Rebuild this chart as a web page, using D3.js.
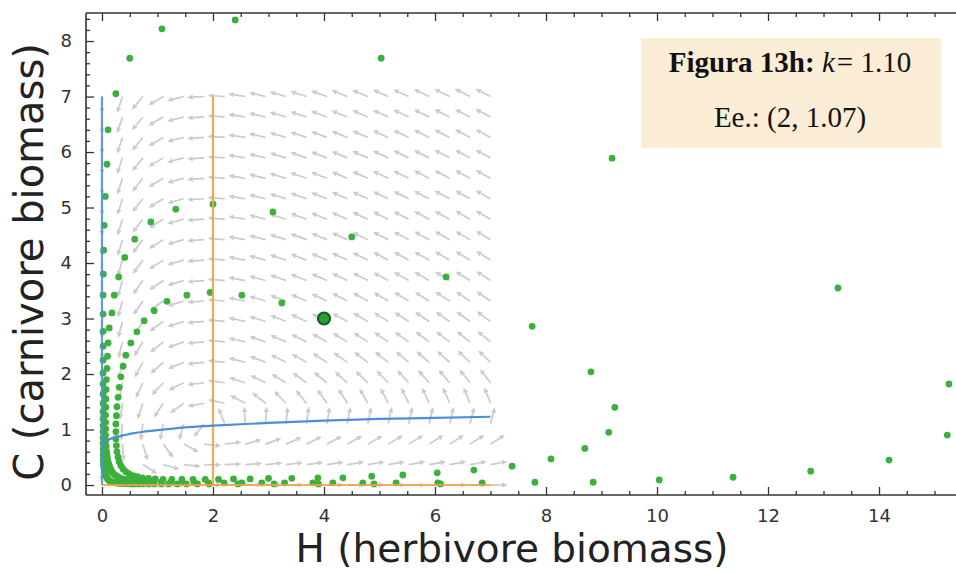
<!DOCTYPE html>
<html><head><meta charset="utf-8">
<script src="https://cdn.jsdelivr.net/npm/d3@7"></script>
<style>body{margin:0;background:#fff}svg{display:block}</style>
</head><body><svg id="chart" width="956" height="573"></svg>
<script>
// ---------- data ----------
const xTickValues = [0, 2, 4, 6, 8, 10, 12, 14];
const yTickValues = [0, 1, 2, 3, 4, 5, 6, 7, 8];
const xLabel = "H (herbivore biomass)";
const yLabel = "C (carnivore biomass)";
const boxTitle = "Figura 13h:";
const boxK = "k";
const boxKValue = "= 1.10";
const boxEq = "Ee.: (2, 1.07)";

// herbivore nullcline (blue curve)
const blueH = [0, 0.05, 0.1, 0.2, 0.35, 0.5, 0.75, 1, 1.5, 2, 3, 4, 5, 6, 7];
const blueC = [0.76, 0.79, 0.81, 0.85, 0.89, 0.92, 0.96, 0.99, 1.04, 1.07, 1.12, 1.16, 1.19, 1.21, 1.23];
// straight nullclines
const blueAxis = {h: [0, 0], c: [0, 7]};
const orangeVert = {h: [2, 2], c: [0, 7]};
const orangeHorz = {h: [0, 7], c: [0, 0]};
const carnivoreThreshold = 2;   // dC/dt = 0 at H = 2
const fieldRange = [0, 7];
const fieldPoints = 20;

// trajectory points (green), in time order, three laps
const lap1H = [4.0, 3.24, 2.52, 1.95, 1.53, 1.17, 0.94, 0.76, 0.63, 0.52, 0.43, 0.38, 0.34, 0.31, 0.29, 0.27, 0.26, 0.25, 0.25, 0.25, 0.26, 0.27, 0.29, 0.31, 0.34, 0.38, 0.43, 0.49, 0.56, 0.64, 0.73, 0.84, 0.96, 1.10, 1.26, 1.44, 1.64, 1.86, 2.10, 2.37, 2.67, 3.00, 3.42, 3.89, 4.34, 4.86, 5.42, 6.04, 6.70, 7.39, 8.09, 8.70, 9.13, 9.24, 8.81, 7.75, 6.20, 4.50, 3.08, 2.00, 1.33, 0.88, 0.59, 0.41, 0.30, 0.22];
const lap1C = [3.00, 3.28, 3.42, 3.47, 3.42, 3.31, 3.14, 2.96, 2.76, 2.56, 2.34, 2.14, 1.95, 1.76, 1.58, 1.41, 1.25, 1.10, 0.96, 0.83, 0.71, 0.60, 0.50, 0.42, 0.35, 0.29, 0.24, 0.20, 0.17, 0.15, 0.13, 0.12, 0.11, 0.10, 0.10, 0.10, 0.10, 0.10, 0.10, 0.11, 0.11, 0.12, 0.12, 0.13, 0.13, 0.16, 0.18, 0.22, 0.27, 0.34, 0.47, 0.66, 0.95, 1.40, 2.04, 2.86, 3.75, 4.47, 4.92, 5.06, 4.97, 4.74, 4.43, 4.10, 3.75, 3.42];
const lap2H = [0.18, 0.13, 0.11, 0.10, 0.09, 0.08, 0.075, 0.07, 0.07, 0.065, 0.065, 0.065, 0.065, 0.07, 0.075, 0.08, 0.085, 0.09, 0.095, 0.10, 0.11, 0.12, 0.13, 0.14, 0.15, 0.165, 0.18, 0.20, 0.22, 0.25, 0.28, 0.32, 0.36, 0.42, 0.50, 0.58, 0.68, 0.79, 0.92, 1.07, 1.24, 1.44, 1.66, 1.92, 2.20, 2.52, 2.88, 3.29, 3.80, 4.16, 4.70, 5.30, 6.05, 6.85, 7.80, 8.85, 10.04, 11.37, 12.77, 14.18, 15.23, 15.26, 13.26, 9.19, 5.03, 2.40, 1.08, 0.50, 0.25, 0.11, 0.09];
const lap2C = [3.10, 2.83, 2.56, 2.32, 2.10, 1.90, 1.72, 1.55, 1.40, 1.26, 1.13, 1.01, 0.90, 0.80, 0.70, 0.61, 0.57, 0.53, 0.49, 0.45, 0.41, 0.38, 0.35, 0.32, 0.29, 0.26, 0.235, 0.21, 0.19, 0.17, 0.15, 0.13, 0.115, 0.10, 0.09, 0.08, 0.07, 0.06, 0.055, 0.05, 0.05, 0.045, 0.045, 0.04, 0.04, 0.04, 0.04, 0.04, 0.04, 0.04, 0.04, 0.04, 0.04, 0.04, 0.05, 0.05, 0.09, 0.14, 0.25, 0.45, 0.90, 1.82, 3.55, 5.89, 7.69, 8.38, 8.22, 7.69, 7.05, 6.40, 5.78];
const lap3H = [0.06, 0.04, 0.03, 0.025, 0.02, 0.02, 0.02, 0.02, 0.02, 0.02, 0.02, 0.02, 0.02, 0.02, 0.02, 0.02, 0.02, 0.02, 0.02, 0.02, 0.022, 0.025, 0.027, 0.03, 0.032, 0.035, 0.04, 0.045, 0.05, 0.06, 0.07, 0.08, 0.09, 0.10, 0.115, 0.13, 0.15, 0.17, 0.195, 0.22, 0.25, 0.28, 0.32, 0.36, 0.41, 0.46, 0.52, 0.58, 0.66, 0.74, 0.84, 0.94, 1.07, 1.20, 1.36, 1.52, 1.72, 1.93, 2.45, 3.10, 3.90, 4.90, 6.10];
const lap3C = [5.20, 4.68, 4.23, 3.80, 3.42, 3.08, 2.77, 2.50, 2.25, 2.02, 1.82, 1.64, 1.47, 1.32, 1.19, 1.07, 0.96, 0.85, 0.75, 0.65, 0.56, 0.47, 0.43, 0.39, 0.355, 0.32, 0.29, 0.26, 0.23, 0.20, 0.175, 0.15, 0.13, 0.11, 0.095, 0.08, 0.07, 0.06, 0.05, 0.045, 0.04, 0.035, 0.03, 0.03, 0.025, 0.025, 0.02, 0.02, 0.02, 0.02, 0.02, 0.02, 0.02, 0.02, 0.02, 0.02, 0.02, 0.02, 0.02, 0.02, 0.02, 0.02, 0.02];
const startPoint = {h: 4.0, c: 3.0};

// ---------- layout ----------
const svg = d3.select("#chart");
const W = 956, H = 573;
const plot = {left: 86, right: 956, top: 13, bottom: 495};
const x = d3.scaleLinear().domain([-0.288, 15.387]).range([plot.left, plot.right]);
const y = d3.scaleLinear().domain([-0.18, 8.505]).range([plot.bottom, plot.top]);

svg.append("rect").attr("width", W).attr("height", H).attr("fill", "#fff");

svg.append("defs").append("clipPath").attr("id", "clip")
  .append("rect").attr("x", plot.left).attr("y", plot.top)
  .attr("width", plot.right - plot.left).attr("height", plot.bottom - plot.top);
const g = svg.append("g").attr("clip-path", "url(#clip)");

// ---------- vector field ----------
const gBlue = d3.scaleLinear().domain(blueH).range(blueC).clamp(true);
function field(h, c) {
  return [h * (gBlue(h) - c), 0.6 * c * (h - carnivoreThreshold)];
}
const grid = [];
for (let i = 0; i < fieldPoints; i++) for (let j = 0; j < fieldPoints; j++) {
  const h = fieldRange[0] + (fieldRange[1] - fieldRange[0]) * i / (fieldPoints - 1);
  const c = fieldRange[0] + (fieldRange[1] - fieldRange[0]) * j / (fieldPoints - 1);
  grid.push({h, c});
}
const L = 17, headL = 5.5, headW = 2.6;
const arrows = g.append("g").attr("fill", "#cbcbcb").attr("stroke", "#cbcbcb")
  .attr("stroke-width", 1.7);
grid.forEach(p => {
  const [dh, dc] = field(p.h, p.c);
  const m = Math.hypot(dh, dc);
  if (m < 1e-9) return;
  const ux = dh / m, uy = -dc / m;
  const x0 = x(p.h), y0 = y(p.c);
  const x1 = x0 + ux * L, y1 = y0 + uy * L;
  const bx = x1 - ux * headL, by = y1 - uy * headL;
  arrows.append("line").attr("x1", x0).attr("y1", y0).attr("x2", bx).attr("y2", by);
  arrows.append("path").attr("stroke", "none")
    .attr("d", `M${x1},${y1}L${bx - uy * headW},${by + ux * headW}L${bx + uy * headW},${by - ux * headW}Z`);
});

// ---------- trajectory ----------
const zipPts = (hs, cs) => hs.slice(0, Math.min(hs.length, cs.length)).map((h, i) => ({h, c: cs[i]}));
const pts = [...zipPts(lap1H, lap1C), ...zipPts(lap2H, lap2C), ...zipPts(lap3H, lap3C)];
g.append("g").selectAll("circle").data(pts).join("circle")
  .attr("cx", d => x(d.h)).attr("cy", d => y(d.c)).attr("r", 3.4)
  .attr("fill", "#3cb03c");

// ---------- nullclines ----------
const line = d3.line().x(d => x(d[0])).y(d => y(d[1]));
const zip = (a, b) => a.map((v, i) => [v, b[i]]);
g.append("path").attr("d", line(zip(orangeHorz.h, orangeHorz.c))).attr("fill", "none")
  .attr("stroke", "#f2a240").attr("stroke-width", 2.2).attr("opacity", 0.85);
g.append("path").attr("d", line(zip(orangeVert.h, orangeVert.c))).attr("fill", "none")
  .attr("stroke", "#f2a240").attr("stroke-width", 2.2).attr("opacity", 0.9);
g.append("path").attr("d", line(zip(blueAxis.h, blueAxis.c))).attr("fill", "none")
  .attr("stroke", "#4a8fdc").attr("stroke-width", 2.2).attr("opacity", 0.85);
g.append("path").attr("d", d3.line().curve(d3.curveMonotoneX).x(d => x(d[0])).y(d => y(d[1]))(zip(blueH, blueC)))
  .attr("fill", "none").attr("stroke", "#4a8fdc").attr("stroke-width", 2.2);

// start marker
g.append("circle").attr("cx", x(startPoint.h)).attr("cy", y(startPoint.c)).attr("r", 6)
  .attr("fill", "#2f9a36").attr("stroke", "#11621a").attr("stroke-width", 2.2);

// ---------- axes (frame with inward ticks) ----------
const axisColor = "#333";
const ax = svg.append("g");
ax.append("line").attr("x1", plot.left).attr("x2", plot.right).attr("y1", plot.bottom).attr("y2", plot.bottom)
  .attr("stroke", axisColor).attr("stroke-width", 1.6);
ax.append("line").attr("x1", plot.left).attr("x2", plot.right).attr("y1", plot.top).attr("y2", plot.top)
  .attr("stroke", axisColor).attr("stroke-width", 1.6);
ax.append("line").attr("x1", plot.left).attr("x2", plot.left).attr("y1", plot.top).attr("y2", plot.bottom)
  .attr("stroke", axisColor).attr("stroke-width", 1.6);

const xMinor = d3.range(0, 15.5, 0.5).filter(v => !xTickValues.includes(v));
const yMinor = d3.range(-0.2, 8.6, 0.2).map(v => +v.toFixed(1)).filter(v => !yTickValues.includes(v) && v > -0.18 && v < 8.5);

const xAxisB = d3.axisBottom(x).tickValues(xTickValues).tickSizeInner(-8).tickSizeOuter(0).tickPadding(14).tickFormat(d3.format("d"));
const gxb = svg.append("g").attr("transform", `translate(0,${plot.bottom})`).call(xAxisB);
const xAxisT = d3.axisTop(x).tickValues(xTickValues).tickSizeInner(-8).tickSizeOuter(0).tickFormat("");
const gxt = svg.append("g").attr("transform", `translate(0,${plot.top})`).call(xAxisT);
const xAxisBm = d3.axisBottom(x).tickValues(xMinor).tickSizeInner(-4).tickSizeOuter(0).tickFormat("");
const gxbm = svg.append("g").attr("transform", `translate(0,${plot.bottom})`).call(xAxisBm);
const xAxisTm = d3.axisTop(x).tickValues(xMinor).tickSizeInner(-4).tickSizeOuter(0).tickFormat("");
const gxtm = svg.append("g").attr("transform", `translate(0,${plot.top})`).call(xAxisTm);
const yAxis = d3.axisLeft(y).tickValues(yTickValues).tickSizeInner(-8).tickSizeOuter(0).tickPadding(14).tickFormat(d3.format("d"));
const gy = svg.append("g").attr("transform", `translate(${plot.left},0)`).call(yAxis);
const yAxisM = d3.axisLeft(y).tickValues(yMinor).tickSizeInner(-4).tickSizeOuter(0).tickFormat("");
const gym = svg.append("g").attr("transform", `translate(${plot.left},0)`).call(yAxisM);

[gxb, gxt, gxbm, gxtm, gy, gym].forEach(a => {
  a.select(".domain").remove();
  a.selectAll(".tick line").attr("stroke", axisColor).attr("stroke-width", 1.3);
  a.selectAll(".tick text").attr("fill", "#333").style("font-family", "DejaVu Sans, sans-serif").style("font-size", "18px");
});

// axis titles
svg.append("text").attr("x", 512).attr("y", 562).attr("text-anchor", "middle")
  .style("font-family", "DejaVu Sans, sans-serif").style("font-size", "39px").attr("fill", "#222").text(xLabel);
svg.append("text").attr("transform", "translate(43,262) rotate(-90)").attr("text-anchor", "middle")
  .style("font-family", "DejaVu Sans, sans-serif").style("font-size", "40px").attr("fill", "#222").text(yLabel);

// ---------- annotation box ----------
svg.append("rect").attr("x", 641).attr("y", 38).attr("width", 300).attr("height", 110).attr("fill", "#fcedd6");
const t1 = svg.append("text").attr("x", 790).attr("y", 72).attr("text-anchor", "middle")
  .style("font-family", "Liberation Serif, serif").style("font-size", "29px").attr("fill", "#111");
t1.append("tspan").style("font-weight", "bold").text(boxTitle + " ");
t1.append("tspan").style("font-style", "italic").text(boxK);
t1.append("tspan").attr("dx", 2).text(boxKValue);
svg.append("text").attr("x", 790).attr("y", 127).attr("text-anchor", "middle")
  .style("font-family", "Liberation Serif, serif").style("font-size", "29px").attr("fill", "#111").text(boxEq);
</script></body></html>
